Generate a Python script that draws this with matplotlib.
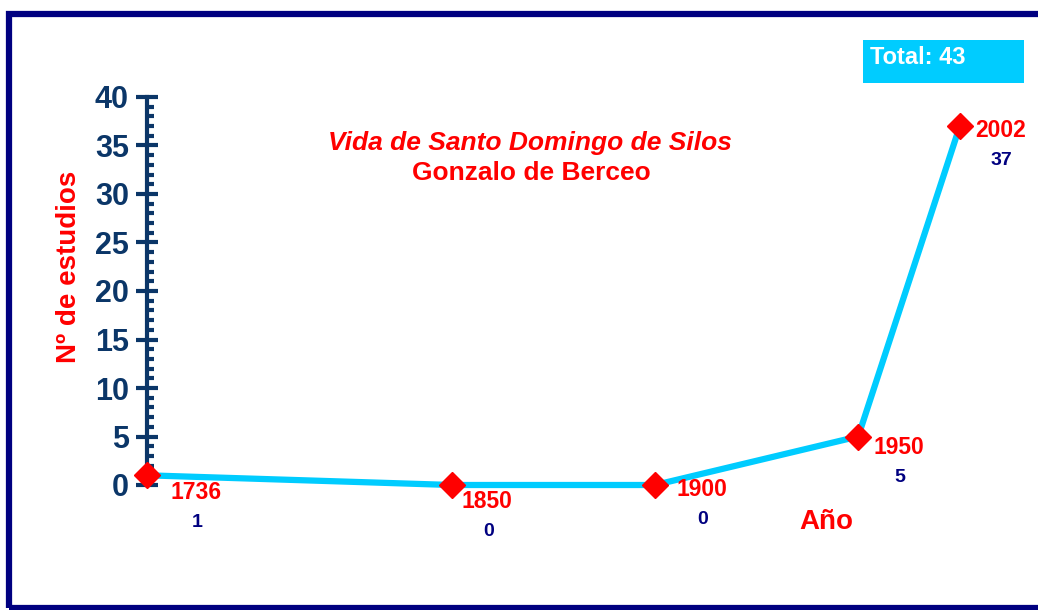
import numpy as np
import matplotlib.pyplot as plt
from matplotlib.patches import Rectangle
from matplotlib.ticker import MultipleLocator

# datos
anios = ["1736", "1850", "1900", "1950", "2002"]
estudios = [1, 0, 0, 5, 37]
posicion = [0, 3, 5, 7, 8]   # posicion de cada año en el eje horizontal
total = sum(estudios)

# desplazamiento de las etiquetas (px) respecto a cada marcador
desp_anio = [(23, -17), (10, -17), (21, -5), (15, -11), (15, -4)]

plt.rcParams['font.family'] = ['Liberation Sans', 'DejaVu Sans']
plt.rcParams['font.weight'] = 'bold'

azul = "#0b3668"
navy = "#000080"
rojo = "#ff0000"
cian = "#00ccff"

W, H = 1038, 610
fig = plt.figure(figsize=(W / 100, H / 100), dpi=100)

# marco exterior
fig.patches.append(Rectangle((9 / W, 1 - 608 / H), (1050 - 9) / W, (608 - 14) / H,
                             transform=fig.transFigure, fill=False,
                             edgecolor=navy, linewidth=4.5))

x0, y0 = 147, 485
px_x = 101.6
xmax = 8.5
ax = fig.add_axes([x0 / W, 1 - y0 / H, xmax * px_x / W, (y0 - 97) / H])
ax.set_xlim(0, xmax)
ax.set_ylim(0, 40)

ax.plot(posicion, estudios, color=cian, linewidth=4.5, zorder=3, clip_on=False)
ax.plot(posicion, estudios, linestyle="none", marker="D", markersize=13,
        color=rojo, zorder=4, clip_on=False)

for i in range(len(anios)):
    dx, dy = desp_anio[i]
    ax.annotate(anios[i], (posicion[i], estudios[i]), xytext=(dx * 0.72, dy * 0.72),
                textcoords="offset points", ha="left", va="center",
                color=rojo, fontsize=16.5, fontweight="bold", annotation_clip=False)
    ax.annotate(str(estudios[i]), (posicion[i], estudios[i]),
                xytext=((dx + 27) * 0.72, (dy - 30) * 0.72),
                textcoords="offset points", ha="center", va="center",
                color=navy, fontsize=14, fontweight="bold", annotation_clip=False)

for s in ["top", "right", "bottom"]:
    ax.spines[s].set_visible(False)
ax.spines["left"].set_color(azul)
ax.spines["left"].set_linewidth(3)
ax.set_xticks([])
ax.yaxis.set_major_locator(MultipleLocator(5))
ax.yaxis.set_minor_locator(MultipleLocator(1))
ax.tick_params(axis="y", which="major", direction="inout", length=16, width=3,
               color=azul, labelcolor=azul, labelsize=22, pad=5)
ax.tick_params(axis="y", which="minor", direction="in", length=5, width=3, color=azul)
for t in ax.get_yticklabels():
    t.set_fontweight("bold")

fig.text(69 / W, 1 - 267 / H, "Nº de estudios", color=rojo, fontsize=20,
         fontweight="bold", rotation=90, ha="center", va="center")

fig.text(530 / W, 1 - 143 / H, "Vida de Santo Domingo de Silos", color=rojo,
         fontsize=19, fontweight="bold", style="italic", ha="center", va="center")
fig.text(531 / W, 1 - 173 / H, "Gonzalo de Berceo", color=rojo,
         fontsize=19, fontweight="bold", ha="center", va="center")
fig.text(826 / W, 1 - 522 / H, "Año", color=rojo, fontsize=20, fontweight="bold",
         ha="center", va="center")

# recuadro del total
fig.patches.append(Rectangle((863 / W, 1 - 83 / H), (1024 - 863) / W, (83 - 40) / H,
                             transform=fig.transFigure, facecolor=cian, edgecolor="none"))
fig.text(870 / W, 1 - 58 / H, "Total: %d" % total, color="white", fontsize=17,
         fontweight="bold", ha="left", va="center")

fig.savefig("out.png", dpi=100)
